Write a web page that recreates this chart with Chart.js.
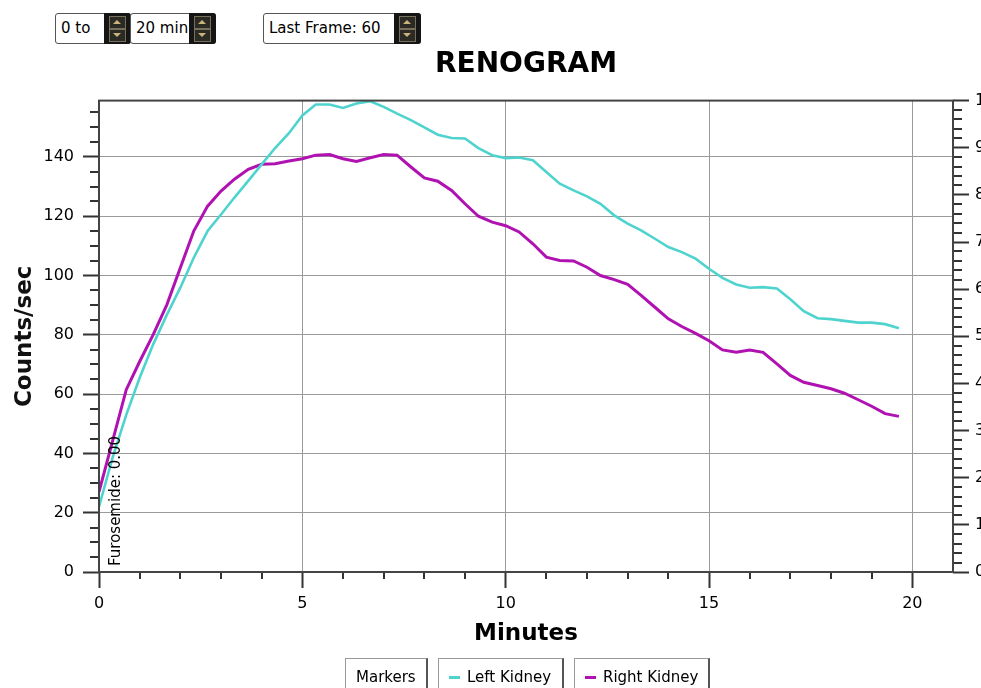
<!DOCTYPE html>
<html>
<head>
<meta charset="utf-8">
<title>Renogram</title>
<script src="https://cdn.jsdelivr.net/npm/chart.js@4.4.1/dist/chart.umd.min.js"></script>
<style>
body { margin:0; width:981px; height:688px; overflow:hidden; background:#fff; position:relative; font-family:"DejaVu Sans", sans-serif; color:#000; }
#wrap { position:absolute; left:0; top:0; width:1010px; height:688px; }
.spin { position:absolute; top:13px; height:31px; border:1px solid #555; border-radius:3px; background:#fff; box-sizing:border-box; font-size:15px; line-height:29px; padding-left:5px; }
.spin .btns { position:absolute; right:-1px; top:-1px; width:27px; height:31px; background:#151515; border-radius:0 3px 3px 0; }
.spin .btns i { position:absolute; left:5px; width:15px; height:11px; border:1px solid #77705a; background:#2b2a25; }
.spin .btns i.up { top:3px; }
.spin .btns i.dn { top:16px; }
.spin .btns i::after { content:""; position:absolute; left:3px; border-left:4px solid transparent; border-right:4px solid transparent; }
.spin .btns i.up::after { top:3px; border-bottom:4px solid #cbb47c; }
.spin .btns i.dn::after { top:3px; border-top:4px solid #cbb47c; }
#legend { position:absolute; left:345px; top:658px; display:flex; gap:10px; }
.lg { height:40px; border:1px solid #999; border-right:2px solid #555; box-sizing:border-box; font-size:15px; line-height:36px; padding:0 8px 0 10px; white-space:nowrap; }
.lg b { display:inline-block; width:11px; height:3px; vertical-align:middle; margin-right:7px; }
</style>
</head>
<body>
<div class="spin" style="left:55px; width:76px;">0 to<span class="btns"><i class="up"></i><i class="dn"></i></span></div>
<div class="spin" style="left:130px; width:86px;">20 min<span class="btns"><i class="up"></i><i class="dn"></i></span></div>
<div class="spin" style="left:263px; width:158px;">Last Frame: 60<span class="btns"><i class="up"></i><i class="dn"></i></span></div>

<div id="wrap"><canvas id="renogram" width="1010" height="688"></canvas></div>
<div id="legend"><div class="lg" style="width:83px;">Markers</div></div>

<script>
// Renogram data (counts/sec per 20 s frame)

let minutes = [0, 0.33, 0.67, 1, 1.33, 1.67, 2, 2.33, 2.67, 3, 3.33, 3.67, 4, 4.33, 4.67, 5, 5.33, 5.67, 6, 6.33,
    6.67, 7, 7.33, 7.67, 8, 8.33, 8.67, 9, 9.33, 9.67, 10, 10.33, 10.67, 11, 11.33, 11.67, 12, 12.33, 12.67, 13,
    13.33, 13.67, 14, 14.33, 14.67, 15, 15.33, 15.67, 16, 16.33, 16.67, 17, 17.33, 17.67, 18, 18.33, 18.67, 19, 19.33, 19.67];

let leftKidney = [22, 38.4, 53, 65.5, 76.7, 86.8, 95.9, 106, 115, 120.6, 126.3, 131.9, 137.5, 143, 148, 154, 157.7, 157.7, 156.5, 158,
    158.8, 156.9, 154.6, 152.4, 150, 147.5, 146.4, 146.2, 143, 140.6, 139.6, 139.8, 138.9, 134.9, 131, 128.7, 126.7, 124.2, 120.3, 117.5,
    115.2, 112.4, 109.6, 107.9, 105.7, 102.3, 99.2, 97, 95.9, 96.1, 95.6, 92, 88, 85.6, 85.3, 84.7, 84.1, 84.1, 83.6, 82.2];

let rightKidney = [27, 44, 61.5, 71, 80, 90.2, 102.6, 115, 123.4, 128.5, 132.5, 135.8, 137.5, 137.7, 138.6, 139.4, 140.6, 140.8, 139.4, 138.5,
    139.7, 140.8, 140.6, 136.6, 132.9, 131.8, 128.7, 124.2, 120, 118, 116.8, 114.7, 110.7, 106.2, 105.1, 104.9, 102.8, 100, 98.6, 97,
    93.3, 89.3, 85.4, 82.8, 80.5, 78, 74.9, 74.1, 74.9, 74.1, 70.2, 66.3, 64, 62.9, 61.8, 60.3, 58.1, 55.9, 53.4, 52.5];

let markerTimes = [0];
let markerLabels = ["Furosemide: 0.00"];

let countsMax = 159;
let percentMax = 100;
let minutesMax = 21;

let font = "'DejaVu Sans', sans-serif";

function points(values){
    return minutes.map(function(t, i){ return {x: t, y: values[i]}; });
}

// keep only the round ticks (drop the axis end values)
function roundTicks(step){
    return function(scale){
        scale.ticks = scale.ticks.filter(function(t){ return t.value % step === 0; });
    };
}

// frame, minor ticks and marker text
let extras = {
    id: "extras",
    afterDraw: function(chart){
        let ctx = chart.ctx;
        let a = chart.chartArea;
        let sx = chart.scales.x, sy = chart.scales.y, sr = chart.scales.y1;

        ctx.save();
        ctx.strokeStyle = "#333";
        ctx.lineWidth = 2;
        ctx.beginPath();
        for(let v = 1; v < minutesMax; v++){
            if(v % 5 === 0) continue;
            let px = Math.round(sx.getPixelForValue(v));
            ctx.moveTo(px, a.bottom); ctx.lineTo(px, a.bottom + 7);
        }
        for(let v = 5; v < countsMax; v += 5){
            if(v % 20 === 0) continue;
            let py = Math.round(sy.getPixelForValue(v));
            ctx.moveTo(a.left, py); ctx.lineTo(a.left - 9, py);
        }
        for(let v = 2; v < percentMax; v += 2){
            if(v % 10 === 0) continue;
            let py = Math.round(sr.getPixelForValue(v));
            ctx.moveTo(a.right, py); ctx.lineTo(a.right + 9, py);
        }
        ctx.stroke();

        ctx.strokeStyle = "#444";
        ctx.strokeRect(a.left, a.top, a.right - a.left, a.bottom - a.top);

        ctx.fillStyle = "#000";
        ctx.font = "15px " + font;
        ctx.textAlign = "left";
        ctx.textBaseline = "middle";
        markerTimes.forEach(function(t, i){
            ctx.save();
            ctx.translate(sx.getPixelForValue(t) + 17, a.bottom - 6);
            ctx.rotate(-Math.PI / 2);
            ctx.fillText(markerLabels[i], 0, 0);
            ctx.restore();
        });
        ctx.restore();
    }
};

let chart = new Chart(document.getElementById("renogram").getContext("2d"), {

    type: "line",

    data: {
        datasets: [{
            label: "Left Kidney",
            data: points(leftKidney),
            borderColor: "#4fd3cf",
            borderWidth: 2.6,
            pointRadius: 0,
            yAxisID: "y"
        }, {
            label: "Right Kidney",
            data: points(rightKidney),
            borderColor: "#b012b2",
            borderWidth: 3,
            pointRadius: 0,
            yAxisID: "y"
        }]
    },

    options: {
        responsive: false,
        animation: false,
        layout: { padding: 0 },
        plugins: {
            legend: { display: false },
            tooltip: { enabled: false },
            title: {
                display: true,
                text: "RENOGRAM",
                fullSize: false,
                color: "#000",
                font: { family: font, size: 28, weight: "bold" },
                padding: { top: 48, bottom: 19 }
            }
        },
        scales: {
            x: {
                type: "linear",
                min: 0,
                max: minutesMax,
                bounds: "data",
                ticks: { stepSize: 5, color: "#000", padding: 6, font: { family: font, size: 16 }, maxRotation: 0 },
                grid: { color: "#9a9a9a", tickColor: "#333", tickLength: 16, tickWidth: 2 },
                border: { display: false },
                title: { display: true, text: "Minutes", color: "#000", font: { family: font, size: 23, weight: "bold" }, padding: { top: 0, bottom: 40 } },
                afterBuildTicks: roundTicks(5),
                afterFit: function(s){ s.height = 116; }
            },
            y: {
                position: "left",
                min: 0,
                max: countsMax,
                bounds: "data",
                ticks: { stepSize: 20, color: "#000", padding: 9, font: { family: font, size: 16 } },
                grid: { color: "#9a9a9a", tickColor: "#333", tickLength: 16, tickWidth: 2 },
                border: { display: false },
                title: { display: true, text: "Counts/sec", color: "#111", font: { family: font, size: 23, weight: "bold" }, padding: { top: 11, bottom: 0 } },
                afterBuildTicks: roundTicks(20),
                afterFit: function(s){ s.width = 99; }
            },
            y1: {
                position: "right",
                min: 0,
                max: percentMax,
                bounds: "data",
                ticks: { stepSize: 10, color: "#000", padding: 6, font: { family: font, size: 16 } },
                grid: { drawOnChartArea: false, tickColor: "#333", tickLength: 16, tickWidth: 2 },
                border: { display: false },
                afterBuildTicks: roundTicks(10),
                afterFit: function(s){ s.width = 57; }
            }
        }
    },

    plugins: [extras]
});

// legend boxes from the datasets
let legend = document.getElementById("legend");
let boxWidths = [126, 136];
chart.data.datasets.forEach(function(ds, i){
    let box = document.createElement("div");
    box.className = "lg";
    box.style.width = boxWidths[i] + "px";
    box.innerHTML = '<b style="background:' + ds.borderColor + '"></b>' + ds.label;
    legend.appendChild(box);
});
</script>
</body>
</html>
